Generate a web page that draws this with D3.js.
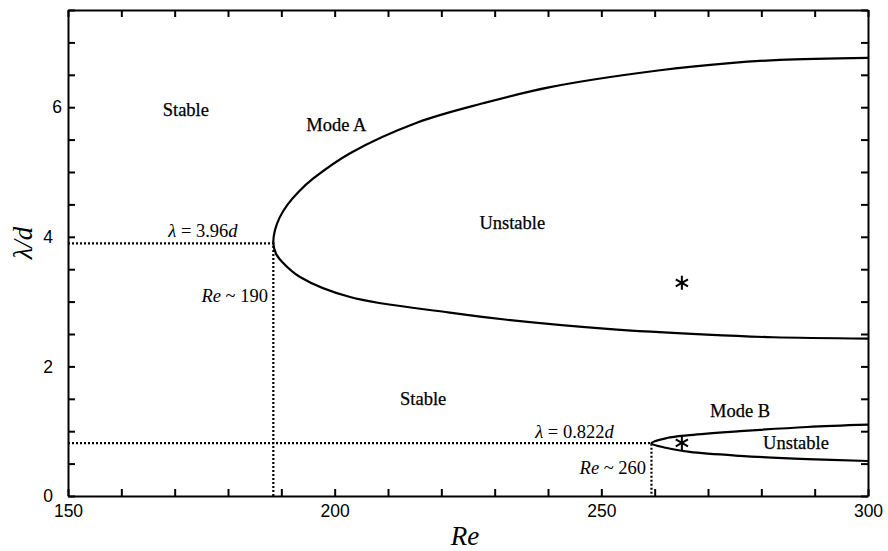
<!DOCTYPE html>
<html>
<head>
<meta charset="utf-8">
<script src="https://cdn.jsdelivr.net/npm/d3@7"></script>
<style>
  body { margin: 0; background: #fff; }
  svg { display: block; }
</style>
</head>
<body>
<div id="chart"></div>
<script>
// Mode A neutral curve, upper branch (from nose outwards) and lower branch
var modeA_upper_re  = [188.8, 189.7, 191.2, 193.3, 196.0, 202.9, 215.4, 227.8, 240.4, 261.0, 274.1, 283.5, 300];
var modeA_upper_lam = [4.10, 4.30, 4.50, 4.70, 4.90, 5.29, 5.76, 6.06, 6.31, 6.57, 6.68, 6.73, 6.76];
var modeA_nose = [188.5, 3.90];
var modeA_lower_re  = [189.0, 190.3, 193.5, 202.9, 221.6, 232.3, 251.1, 269.8, 282.2, 300];
var modeA_lower_lam = [3.74, 3.60, 3.38, 3.07, 2.83, 2.72, 2.58, 2.49, 2.45, 2.43];

// Mode B neutral curve
var modeB_upper_re  = [262.3, 266.6, 276.0, 288.6, 300];
var modeB_upper_lam = [0.895, 0.94, 1.00, 1.065, 1.10];
var modeB_nose = [259.4, 0.815];
var modeB_lower_re  = [262.3, 266.6, 276.0, 288.6, 300];
var modeB_lower_lam = [0.74, 0.68, 0.62, 0.57, 0.54];

// asterisk markers
var star_re  = [265.1, 265.1];
var star_lam = [3.29, 0.82];

var xTicks = d3.range(150, 301, 10);
var yTicks = d3.range(0, 7.51, 0.5);
var xLabels = [150, 200, 250, 300];
var yLabels = [0, 2, 4, 6];

var width = 888, height = 551;
var margin = {left: 68, top: 10, right: 20, bottom: 55};

var svg = d3.select('#chart').append('svg')
  .attr('width', width)
  .attr('height', height);

var x = d3.scaleLinear().domain([150, 300]).range([margin.left, width - margin.right]);
var y = d3.scaleLinear().domain([0, 7.5]).range([height - margin.bottom, margin.top]);

var serif = '"Liberation Serif", "Times New Roman", serif';
var sans = '"Liberation Sans", Arial, sans-serif';

function branch(upRe, upLam, nose, loRe, loLam) {
  var pts = [];
  for (var i = upRe.length - 1; i >= 0; i--) pts.push([upRe[i], upLam[i]]);
  pts.push(nose);
  for (var j = 0; j < loRe.length; j++) pts.push([loRe[j], loLam[j]]);
  return pts;
}

var line = d3.line()
  .x(function(d){ return x(d[0]); })
  .y(function(d){ return y(d[1]); })
  .curve(d3.curveCatmullRom.alpha(0.5));

// dotted guide lines
var guides = [modeA_nose, modeB_nose];
guides.forEach(function(n){
  svg.append('path')
    .attr('d', 'M' + x(150) + ',' + y(n[1]) + 'H' + x(n[0]) + 'V' + y(0))
    .attr('fill', 'none')
    .attr('stroke', '#000')
    .attr('stroke-width', 2.2)
    .attr('stroke-dasharray', '2,2');
});

svg.append('path')
  .attr('d', line(branch(modeA_upper_re, modeA_upper_lam, modeA_nose, modeA_lower_re, modeA_lower_lam)))
  .attr('fill', 'none').attr('stroke', '#000').attr('stroke-width', 2.2);

svg.append('path')
  .attr('d', line(branch(modeB_upper_re, modeB_upper_lam, modeB_nose, modeB_lower_re, modeB_lower_lam)))
  .attr('fill', 'none').attr('stroke', '#000').attr('stroke-width', 2.2);

// axes, ticks inward on all four sides
var fmtX = function(d){ return xLabels.indexOf(d) >= 0 ? d : ''; };
var fmtY = function(d){ return yLabels.indexOf(d) >= 0 ? d : ''; };

var gB = svg.append('g').attr('transform', 'translate(0,' + y(0) + ')')
  .call(d3.axisBottom(x).tickValues(xTicks).tickSize(-7).tickSizeOuter(0).tickPadding(9).tickFormat(fmtX));
var gT = svg.append('g').attr('transform', 'translate(0,' + y(7.5) + ')')
  .call(d3.axisTop(x).tickValues(xTicks).tickSize(-7).tickSizeOuter(0).tickFormat(''));
var gL = svg.append('g').attr('transform', 'translate(' + x(150) + ',0)')
  .call(d3.axisLeft(y).tickValues(yTicks).tickSize(-7).tickSizeOuter(0).tickPadding(15).tickFormat(fmtY));
var gR = svg.append('g').attr('transform', 'translate(' + x(300) + ',0)')
  .call(d3.axisRight(y).tickValues(yTicks).tickSize(-7).tickSizeOuter(0).tickFormat(''));

[gB, gT, gL, gR].forEach(function(g){
  g.select('.domain').attr('stroke', '#000').attr('stroke-width', 2);
  g.selectAll('.tick line').attr('stroke', '#000').attr('stroke-width', 2);
  g.selectAll('.tick text').attr('font-family', sans).attr('font-size', 17.5).attr('fill', '#000');
});
gL.selectAll('.tick text').filter(function(d){ return d === 6; }).attr('x', -6);

// asterisks
svg.selectAll('.star')
  .data(star_re.map(function(r, i){ return [r, star_lam[i]]; }))
  .enter().append('path')
  .attr('class', 'star')
  .attr('transform', function(d){ return 'translate(' + x(d[0]) + ',' + y(d[1]) + ')'; })
  .attr('d', d3.symbol(d3.symbolAsterisk, 140))
  .attr('fill', 'none')
  .attr('stroke', '#000')
  .attr('stroke-width', 2);

// region labels (data coords, centre / baseline)
var regions = [
  {t: 'Stable',   re: 172.1, lam: 5.86},
  {t: 'Mode A',   re: 200.3, lam: 5.63},
  {t: 'Unstable', re: 233.3, lam: 4.12},
  {t: 'Stable',   re: 216.6, lam: 1.40},
  {t: 'Mode B',   re: 276.0, lam: 1.22},
  {t: 'Unstable', re: 286.5, lam: 0.725}
];
svg.selectAll('.region')
  .data(regions)
  .enter().append('text')
  .attr('x', function(d){ return x(d.re); })
  .attr('y', function(d){ return y(d.lam); })
  .attr('text-anchor', 'middle')
  .attr('font-family', serif)
  .attr('font-size', 18.5)
  .attr('stroke', '#000').attr('stroke-width', 0.25)
  .text(function(d){ return d.t; });

// annotations with italic parts
var notes = [
  {re: 168.8, lam: 4.00, anchor: 'start', parts: [['λ', true], [' = 3.96', false], ['d', true]]},
  {re: 187.5, lam: 2.99, anchor: 'end',   parts: [['Re', true], [' ~ 190', false]]},
  {re: 237.6, lam: 0.90, anchor: 'start', parts: [['λ', true], [' = 0.822', false], ['d', true]]},
  {re: 258.4, lam: 0.34, anchor: 'end',   parts: [['Re', true], [' ~ 260', false]]}
];
notes.forEach(function(n){
  var t = svg.append('text')
    .attr('x', x(n.re))
    .attr('y', y(n.lam))
    .attr('text-anchor', n.anchor)
    .attr('font-family', serif)
    .attr('font-size', 18.5);
  n.parts.forEach(function(p){
    t.append('tspan').attr('font-style', p[1] ? 'italic' : 'normal').text(p[0]);
  });
});

// axis titles
svg.append('text')
  .attr('x', 465).attr('y', 545)
  .attr('text-anchor', 'middle')
  .attr('font-family', serif).attr('font-style', 'italic').attr('font-size', 27)
  .text('Re');

svg.append('text')
  .attr('transform', 'translate(32,243) rotate(-90)')
  .attr('text-anchor', 'middle')
  .attr('font-family', serif).attr('font-style', 'italic').attr('font-size', 27)
  .text('λ/d');
</script>
</body>
</html>
